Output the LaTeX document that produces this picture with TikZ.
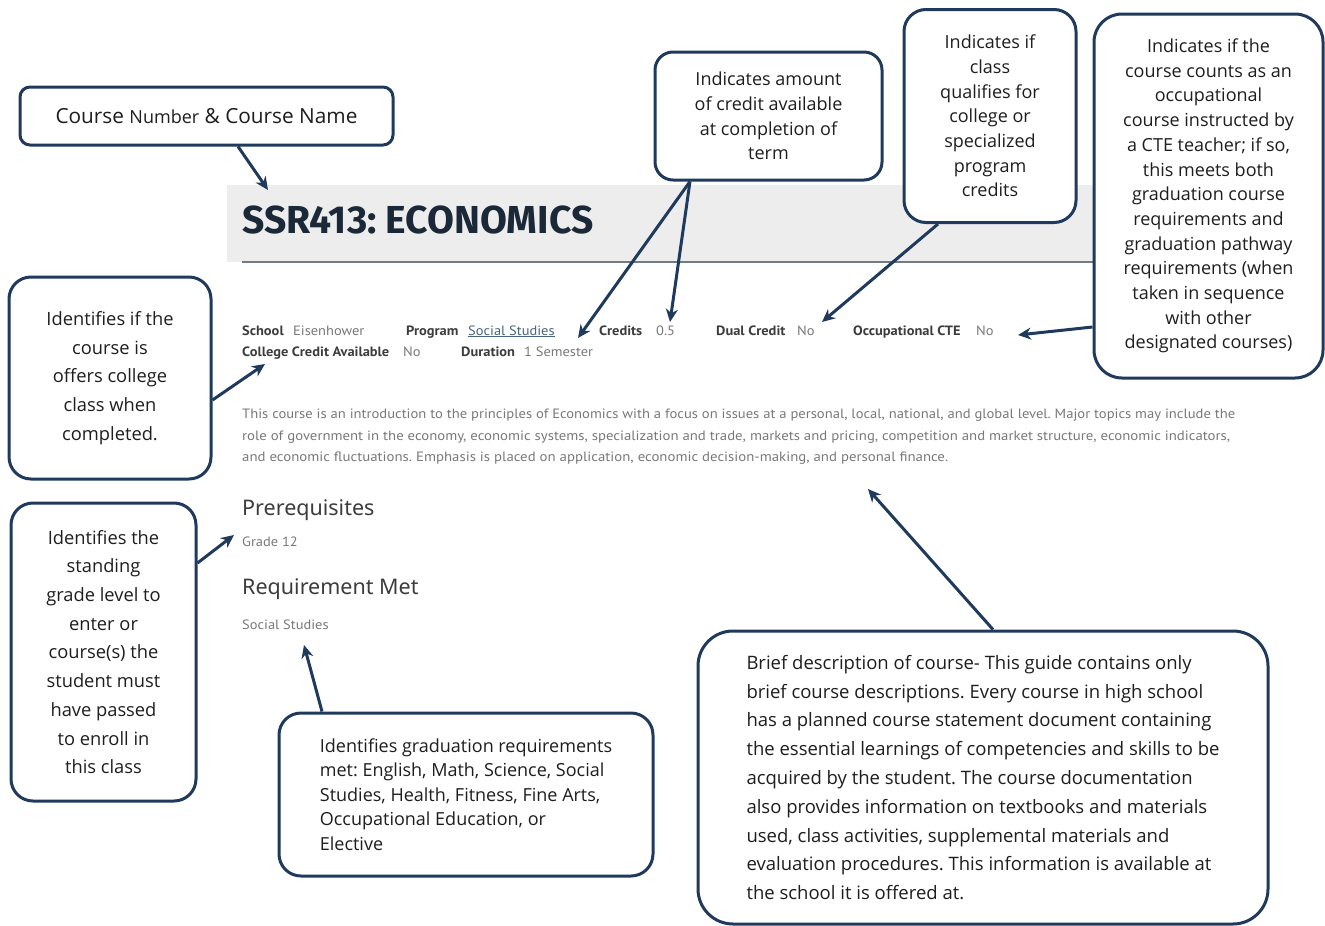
\documentclass[tikz,border=0pt]{standalone}
\usepackage{fontspec}
\usepackage{graphicx}
\setmainfont{Open Sans}
\newfontfamily\callfont{Open Sans}
\newfontfamily\titlefont{Fira Sans}
\newfontfamily\condfont[FakeStretch=1.07]{PT Sans}
\newfontfamily\headfont{Noto Sans}
\usetikzlibrary{arrows.meta,calc}
\definecolor{navy}{RGB}{31,58,92}
\definecolor{txt}{RGB}{30,30,30}
\definecolor{band}{RGB}{237,237,237}
\definecolor{bandline}{RGB}{110,124,134}
\definecolor{lbl}{RGB}{60,60,60}
\definecolor{val}{RGB}{120,120,120}
\definecolor{lnk}{RGB}{70,100,125}
\definecolor{ttl}{RGB}{26,40,56}
\tikzset{
  callout/.style={draw=navy, line width=3pt, fill=white, inner sep=0pt, align=center, text=txt},
  pointer/.style={draw=navy, line width=3pt, -{Stealth[length=13pt,width=12pt]}},
  small/.style={anchor=base west, inner sep=0pt, font=\condfont\fontsize{13.5}{15}\selectfont},
  headtxt/.style={anchor=base west, inner sep=0pt, text=lbl, font=\headfont\fontsize{21.5}{24}\selectfont},
}
\begin{document}
\frenchspacing
\begin{tikzpicture}[x=1pt,y=-1pt]
\useasboundingbox (0,0) rectangle (1325,926);
% header band
\fill[band] (227,185) rectangle (1100,262);
\draw[bandline, line width=2pt] (242,262) -- (1097,262);
\node[anchor=base west, inner sep=0pt, text=ttl, font=\titlefont\bfseries\fontsize{39}{42}\selectfont] (title) at (242,233) {SSR413: ECONOMICS};

% info rows
\node[small, text=lbl] (l1) at (242,335) {\bfseries School};
\node[small, text=val] (v1) at (293,335) {Eisenhower};
\node[small, text=lbl] (l2) at (406,335) {\bfseries Program};
\node[small, text=lnk] (v2) at (468,335) {\underline{Social Studies}};
\node[small, text=lbl] (l3) at (599,335) {\bfseries Credits};
\node[small, text=val] (v3) at (656,335) {0.5};
\node[small, text=lbl] (l4) at (716,335) {\bfseries Dual Credit};
\node[small, text=val] (v4) at (797,335) {No};
\node[small, text=lbl] (l5) at (853,335) {\bfseries Occupational CTE};
\node[small, text=val] (v5) at (976,335) {No};
\node[small, text=lbl] (l6) at (242,356) {\bfseries College Credit Available};
\node[small, text=val] (v6) at (403,356) {No};
\node[small, text=lbl] (l7) at (461,356) {\bfseries Duration};
\node[small, text=val] (v7) at (524,356) {1 Semester};

% paragraph
\node[small, text=val] (p1) at (242,418) {\resizebox{993pt}{\height}{This course is an introduction to the principles of Economics with a focus on issues at a personal, local, national, and global level. Major topics may include the}};
\node[small, text=val] (p2) at (242,440) {\resizebox{988pt}{\height}{role of government in the economy, economic systems, specialization and trade, markets and pricing, competition and market structure, economic indicators,}};
\node[small, text=val] (p3) at (242,461) {\resizebox{706pt}{\height}{and economic fluctuations. Emphasis is placed on application, economic decision-making, and personal finance.}};

% sections
\node[headtxt] (h1) at (242,515) {Prerequisites};
\node[small, text=val] (g12) at (242,546) {Grade 12};
\node[headtxt] (h2) at (242,594) {Requirement Met};
\node[small, text=val] (ss) at (242,629) {Social Studies};

% callouts
\node[callout, rounded corners=10pt, minimum width=373pt, minimum height=58pt, font=\callfont\fontsize{20.8}{24}\selectfont] (b1) at (206.5,116)
  {Course {\fontsize{18}{20}\selectfont Number} \& Course Name};
\node[callout, rounded corners=18pt, minimum width=227pt, minimum height=128pt, font=\callfont\fontsize{18}{24.7}\selectfont] (b2) at (768.5,116)
  {Indicates amount\\of credit available\\at completion of\\term};
\node[callout, rounded corners=22pt, minimum width=172pt, minimum height=213pt, font=\callfont\fontsize{18}{24.7}\selectfont] (b3) at (990,116)
  {Indicates if\\class\\qualifies for\\college or\\specialized\\program\\credits};
\node[callout, rounded corners=28pt, minimum width=229pt, minimum height=364pt, font=\callfont\fontsize{18}{24.7}\selectfont] (b4) at (1208.5,196)
  {Indicates if the\\course counts as an\\occupational\\course instructed by\\a CTE teacher; if so,\\this meets both\\graduation course\\requirements and\\graduation pathway\\requirements (when\\taken in sequence\\with other\\designated courses)};
\node[callout, rounded corners=22pt, minimum width=202pt, minimum height=202pt, font=\callfont\fontsize{18.3}{28.6}\selectfont] (b5) at (110,378)
  {Identifies if the\\course is\\offers college\\class when\\completed.};
\node[callout, rounded corners=22pt, minimum width=185pt, minimum height=298pt, font=\callfont\fontsize{18.3}{28.7}\selectfont] (b6) at (103.5,652)
  {Identifies the\\standing\\grade level to\\enter or\\course(s) the\\student must\\have passed\\to enroll in\\this class};
\node[callout, rounded corners=22pt, minimum width=374pt, minimum height=163pt, align=left, font=\callfont\fontsize{18}{24.5}\selectfont] (b7) at (466,794.5)
  {Identifies graduation requirements\\met: English, Math, Science, Social\\Studies, Health, Fitness, Fine Arts,\\Occupational Education, or\\Elective};
\node[callout, rounded corners=35pt, minimum width=570pt, minimum height=293pt, align=left, font=\callfont\fontsize{18.5}{28.8}\selectfont] (b8) at (983,777.5)
  {Brief description of course- This guide contains only\\brief course descriptions. Every course in high school\\has a planned course statement document containing\\the essential learnings of competencies and skills to be\\acquired by the student. The course documentation\\also provides information on textbooks and materials\\used, class activities, supplemental materials and\\evaluation procedures. This information is available at\\the school it is offered at.};

% targets
\coordinate (t1) at (268,190);
\coordinate (t2a) at (578,338);
\coordinate (t2b) at (670,322);
\coordinate (t3) at (822,322);
\coordinate (t4) at (1018,335);
\coordinate (t5) at (265,364);
\coordinate (t6) at (234,535);
\coordinate (t7) at (304,645);
\coordinate (t8) at (868,489);

\draw[pointer] ([xshift=31.5pt]b1.south) -- (t1);
\draw[pointer] ([xshift=-78.5pt]b2.south) -- (t2a);
\draw[pointer] ([xshift=-78.5pt]b2.south) -- (t2b);
\draw[pointer] ([xshift=-52pt]b3.south) -- (t3);
\draw[pointer] ([yshift=-131pt]b4.west) -- (t4);
\draw[pointer] ([yshift=-22pt]b5.east) -- (t5);
\draw[pointer] ([yshift=89pt]b6.east) -- (t6);
\draw[pointer] ([xshift=-144pt]b7.north) -- (t7);
\draw[pointer] ([xshift=10pt]b8.north) -- (t8);
\end{tikzpicture}
\end{document}
